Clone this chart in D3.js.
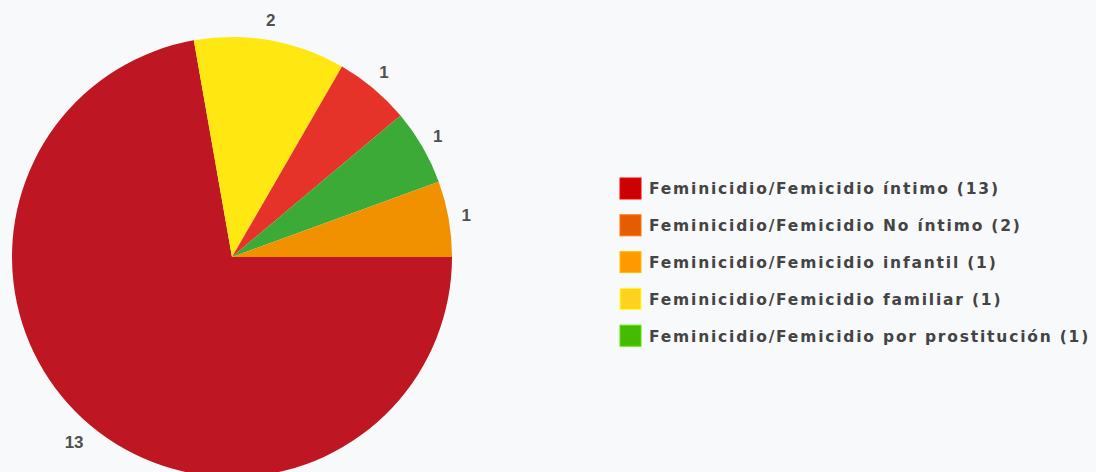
<!DOCTYPE html>
<html>
<head>
<meta charset="utf-8">
<script src="https://cdn.jsdelivr.net/npm/d3@7"></script>
<style>
  html, body { margin: 0; padding: 0; background: #f8f9fb; }
  svg { display: block; }
  .label { font-family: "Liberation Sans", Arial, sans-serif; font-weight: bold; font-size: 17px; fill: #505050; }
  .legend text { font-family: "DejaVu Sans", sans-serif; font-weight: bold; font-size: 15.5px; letter-spacing: 1.8px; fill: #444; }
</style>
</head>
<body>
<div id="vis"></div>
<script>
// slice values, in drawing order (clockwise from 3 o'clock)
var sliceValues = [13, 2, 1, 1, 1];
var sliceColors = ["#be1622", "#ffe811", "#e5332a", "#3caa37", "#f29100"];

// legend entries as shown on the right
var legendLabels = [
  "Feminicidio/Femicidio íntimo (13)",
  "Feminicidio/Femicidio No íntimo (2)",
  "Feminicidio/Femicidio infantil (1)",
  "Feminicidio/Femicidio familiar (1)",
  "Feminicidio/Femicidio por prostitución (1)"
];
var legendColors = ["#cc0000", "#e65c00", "#ff9900", "#ffd21f", "#44bb00"];

var width = 1096;
var height = 472;
var radius = 220;
var cx = 232, cy = 257;

var svg = d3.select("#vis").append("svg")
  .attr("width", width)
  .attr("height", height);

var g = svg.append("g")
  .attr("transform", "translate(" + cx + "," + cy + ")");

var pie = d3.pie()
  .sort(null)
  .startAngle(Math.PI / 2)
  .endAngle(Math.PI / 2 + 2 * Math.PI);

var arcs = pie(sliceValues);

var arc = d3.arc().innerRadius(0).outerRadius(radius);
var labelArc = d3.arc().innerRadius(radius + 21).outerRadius(radius + 21);

g.selectAll("path.slice")
  .data(arcs)
  .enter().append("path")
  .attr("class", "slice")
  .attr("d", arc)
  .attr("fill", function(d, i) { return sliceColors[i]; });

g.selectAll("text.label")
  .data(arcs)
  .enter().append("text")
  .attr("class", "label")
  .attr("transform", function(d) {
    var c = labelArc.centroid(d);
    return "translate(" + (c[0] - 3) + "," + c[1] + ")";
  })
  .attr("text-anchor", "middle")
  .attr("dy", "0.35em")
  .text(function(d) { return d.value; });

// legend
var legend = svg.append("g")
  .attr("class", "legend")
  .attr("transform", "translate(620,178)");

var rowStep = 36.8;

var rows = legend.selectAll("g.row")
  .data(legendLabels)
  .enter().append("g")
  .attr("class", "row")
  .attr("transform", function(d, i) { return "translate(0," + (i * rowStep) + ")"; });

rows.append("rect")
  .attr("width", 21)
  .attr("height", 21)
  .attr("fill", function(d, i) { return legendColors[i]; })
  .attr("stroke", function(d, i) { return d3.color(legendColors[i]).brighter(0.6); })
  .attr("stroke-width", 1);

rows.append("text")
  .attr("x", 29)
  .attr("y", 11)
  .attr("dy", "0.35em")
  .text(function(d) { return d; });
</script>
</body>
</html>
